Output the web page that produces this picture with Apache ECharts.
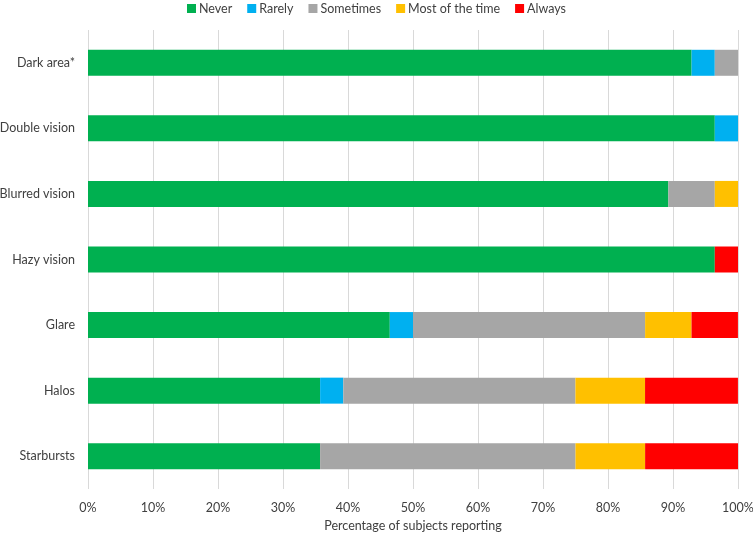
<!DOCTYPE html>
<html><head><meta charset="utf-8">
<script src="https://cdn.jsdelivr.net/npm/echarts@6/dist/echarts.min.js"></script>
<style>html,body{margin:0;padding:0;background:#fff}#c{width:753px;height:534px}</style>
</head><body><div id="c"></div>
<script>
const categories = ["Dark area*", "Double vision", "Blurred vision", "Hazy vision", "Glare", "Halos", "Starbursts"];
const seriesNames = ["Never", "Rarely", "Sometimes", "Most of the time", "Always"];
const never     = [92.86, 96.43, 89.29, 96.43, 46.43, 35.71, 35.71];
const rarely    = [3.57, 3.57, 0, 0, 3.57, 3.57, 0];
const sometimes = [3.57, 0, 7.14, 0, 35.71, 35.71, 39.29];
const mostTime  = [0, 0, 3.57, 0, 7.14, 10.71, 10.71];
const always    = [0, 0, 0, 3.57, 7.14, 14.29, 14.29];
const tickLabels = ["0%","10%","20%","30%","40%","50%","60%","70%","80%","90%","100%"];
const colors = ["#00B050", "#00B0F0", "#A6A6A6", "#FFC000", "#FF0000"];
const values = [never, rarely, sometimes, mostTime, always];
const FONT = "Lato, 'Open Sans', sans-serif";

const chart = echarts.init(document.getElementById('c'), null, {renderer: 'canvas'});
chart.setOption({
  animation: false,
  textStyle: {fontFamily: FONT},
  legend: {
    top: -3, left: 'center',
    itemWidth: 9, itemHeight: 9, itemGap: 15,
    icon: 'rect',
    textStyle: {fontSize: 12.5, color: '#404040', fontFamily: FONT, padding: [0,0,0,-2]},
    data: seriesNames
  },
  grid: {left: 88, right: 15, top: 30, bottom: 45, outerBoundsMode: 'none', containLabel: false},
  xAxis: {
    type: 'value', min: 0, max: 100, interval: 10,
    name: 'Percentage of subjects reporting',
    nameLocation: 'middle', nameGap: 30,
    nameTextStyle: {fontSize: 12.5, color: '#404040', fontFamily: FONT},
    axisLine: {show: false}, axisTick: {show: false},
    axisLabel: {fontSize: 12.5, color: '#404040', fontFamily: FONT, margin: 12,
      formatter: v => tickLabels[Math.round(v/10)]},
    splitLine: {show: true, lineStyle: {color: '#D9D9D9', width: 1}}
  },
  yAxis: {
    type: 'category', data: categories, inverse: true,
    axisLine: {show: false}, axisTick: {show: false},
    axisLabel: {fontSize: 12.5, color: '#404040', fontFamily: FONT, margin: 13}
  },
  series: seriesNames.map((n, i) => ({
    name: n, type: 'bar', stack: 'total', barWidth: 26,
    itemStyle: {color: colors[i]},
    data: values[i]
  }))
});
</script></body></html>
